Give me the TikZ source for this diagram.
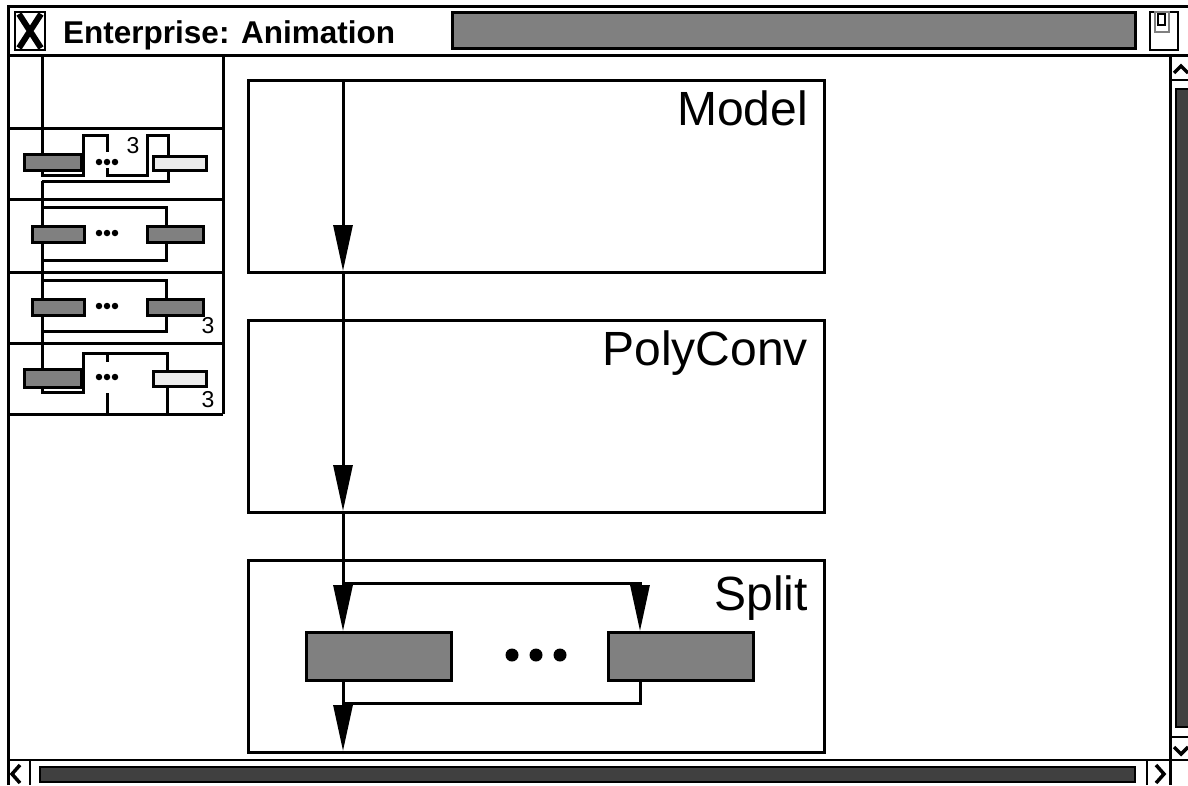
\documentclass[tikz,border=0pt]{standalone}
\usepackage{fontspec}
\setmainfont{Liberation Sans}
\usetikzlibrary{arrows.meta}
\definecolor{midgray}{HTML}{808080}
\definecolor{darkgray}{HTML}{404040}
\definecolor{lightbar}{HTML}{EBEBEB}
\begin{document}
\begin{tikzpicture}[x=1pt,y=-1pt,
  frame/.style={line width=3pt},
  thin frame/.style={line width=2.5pt},
  stage/.style={draw, line width=3pt, minimum width=576pt, minimum height=192pt,
                anchor=north west, inner sep=0pt},
  stagename/.style={anchor=base east, inner sep=0pt, font=\fontsize{48}{48}\selectfont},
  flow/.style={line width=3pt, -{Triangle[length=46pt,width=19pt]}},
  wire/.style={line width=3pt},
  bigbar/.style={draw, line width=3pt, fill=midgray, minimum width=145pt,
                 minimum height=48pt, anchor=north west, inner sep=0pt},
  minibar/.style={draw, line width=2.5pt, fill=midgray, anchor=north west, inner sep=0pt},
  litebar/.style={minibar, fill=lightbar},
  miniwire/.style={line width=3pt},
  dot/.style={circle, fill=black, inner sep=0pt, minimum size=#1},
  tag/.style={font=\fontsize{23}{23}\selectfont, inner sep=0pt},
  chevron/.style={line width=3.5pt, line cap=butt, line join=miter}
]
\useasboundingbox (0,0) rectangle (1188,785);
\fill[white] (0,0) rectangle (1188,785);

% ---------- window frame and title bar ----------
\draw[frame] (8,785) -- (8,6) -- (1188,6);
\draw[frame] (8,55) -- (1188,55);
% close box
\draw[line width=2pt] (15,12) rectangle (45,50);
\draw[line width=6pt] (19,14) -- (41,48) (41,14) -- (19,48);
\node[anchor=base west, font=\bfseries\fontsize{31.5}{31.5}\selectfont, inner sep=0pt]
  (title) at (63,43) {Enterprise: Animation};
\draw[frame, fill=midgray] (452,12) rectangle (1135,48);
% zoom box
\draw[thin frame] (1150,12) rectangle (1178,50);
\draw[line width=1.5pt, gray] (1155,12) rectangle (1169,32);
\draw[thin frame] (1158,14) rectangle (1165,25);

% ---------- scroll bars ----------
\draw[frame] (1170,55) -- (1170,785);
\draw[thin frame] (1170,80) -- (1188,80);
\draw[chevron] (1174,73) -- (1181,66) -- (1188,73);
\draw[thin frame, fill=darkgray] (1176,89) rectangle (1192,727);
\draw[thin frame] (1170,737) -- (1188,737);
\draw[chevron] (1174,747) -- (1181,754) -- (1188,747);
\draw[thin frame] (8,760) -- (1188,760);
\draw[chevron] (20,765) -- (12,774) -- (20,783);
\draw[thin frame] (30,760) -- (30,785);
\draw[thin frame, fill=darkgray] (40,767) rectangle (1135,782);
\draw[thin frame] (1147,760) -- (1147,785);
\draw[chevron] (1156,765) -- (1164,774) -- (1156,783);

% ---------- overview panel ----------
\draw[frame] (223,55) -- (223,414);
\foreach \yy in {128,199,272,343,414} \draw[frame] (8,\yy) -- (223,\yy);

% row 1: fan-out with one branch shown
\draw[miniwire] (42,55) -- (42,175) -- (83,175) -- (83,135) -- (107,135) -- (107,152);
\draw[miniwire] (107,168) -- (107,175) -- (147,175) -- (147,135) -- (168,135) -- (168,181) -- (42,181);
\node[minibar, minimum width=57pt, minimum height=16pt] (r1a) at (23,153) {};
\node[litebar, minimum width=53pt, minimum height=14pt] (r1b) at (152,155) {};
\node[dot=6.5pt] at (99,162) {}; \node[dot=6.5pt] at (107,162) {}; \node[dot=6.5pt] at (115,162) {};
\node[tag] (r1n) at (133,146) {3};

% row 2
\draw[miniwire] (42,181) -- (42,225);
\draw[miniwire] (42,207) -- (166,207) -- (166,225);
\draw[miniwire] (42,241) -- (42,298);
\draw[miniwire] (42,260) -- (166,260) -- (166,241);
\node[minibar, minimum width=52pt, minimum height=16pt] (r2a) at (31,225) {};
\node[minibar, minimum width=56pt, minimum height=16pt] (r2b) at (146,225) {};
\node[dot=6.5pt] at (99,233) {}; \node[dot=6.5pt] at (107,233) {}; \node[dot=6.5pt] at (115,233) {};

% row 3
\draw[miniwire] (42,280) -- (166,280) -- (166,298);
\draw[miniwire] (42,313) -- (42,368);
\draw[miniwire] (42,331) -- (166,331) -- (166,313);
\node[minibar, minimum width=52pt, minimum height=16pt] (r3a) at (31,298) {};
\node[minibar, minimum width=56pt, minimum height=16pt] (r3b) at (146,298) {};
\node[dot=6.5pt] at (99,306) {}; \node[dot=6.5pt] at (107,306) {}; \node[dot=6.5pt] at (115,306) {};
\node[tag] (r3n) at (208,326) {3};

% row 4
\draw[miniwire] (42,386) -- (42,392) -- (83,392) -- (83,353) -- (167,353) -- (167,414);
\draw[miniwire] (107,353) -- (107,362);
\draw[miniwire] (107,393) -- (107,414);
\node[minibar, minimum width=57pt, minimum height=18pt] (r4a) at (23,368) {};
\node[litebar, minimum width=53pt, minimum height=15pt] (r4b) at (152,370) {};
\node[dot=6.5pt] at (99,377) {}; \node[dot=6.5pt] at (107,377) {}; \node[dot=6.5pt] at (115,377) {};
\node[tag] (r4n) at (208,400) {3};

% ---------- pipeline stages ----------
\node[stage] (model) at (247,79) {};
\node[stagename] at (808,125) {Model};
\node[stage] (poly) at (247,319) {};
\node[stagename] at (808,365) {PolyConv};
\node[stage] (split) at (247,559) {};
\node[stagename] at (808,610) {Split};

\coordinate (in)   at (343,79);
\coordinate (m2p)  at (343,271);
\coordinate (p2s)  at (343,511);
\coordinate (fork) at (343,583);
\coordinate (join) at (343,703);
\coordinate (out)  at (343,751);

\node[bigbar] (left)  at (305,631) {};
\node[bigbar] (right) at (607,631) {};
\node[dot=13pt] at (512,655) {}; \node[dot=13pt] at (536,655) {}; \node[dot=13pt] at (560,655) {};

\draw[flow] (in) -- (m2p);
\draw[flow] (m2p) -- (p2s);
\draw[wire] (p2s) -- (fork);
\draw[flow] (fork) -- (fork |- left.north);
\draw[flow] (fork) -- (640,583) -- (640,631);
\draw[wire] (640,679) -- (640,703) -- (join);
\draw[wire] (343,679) -- (join);
\draw[flow] (join) -- (out);
\end{tikzpicture}
\end{document}
